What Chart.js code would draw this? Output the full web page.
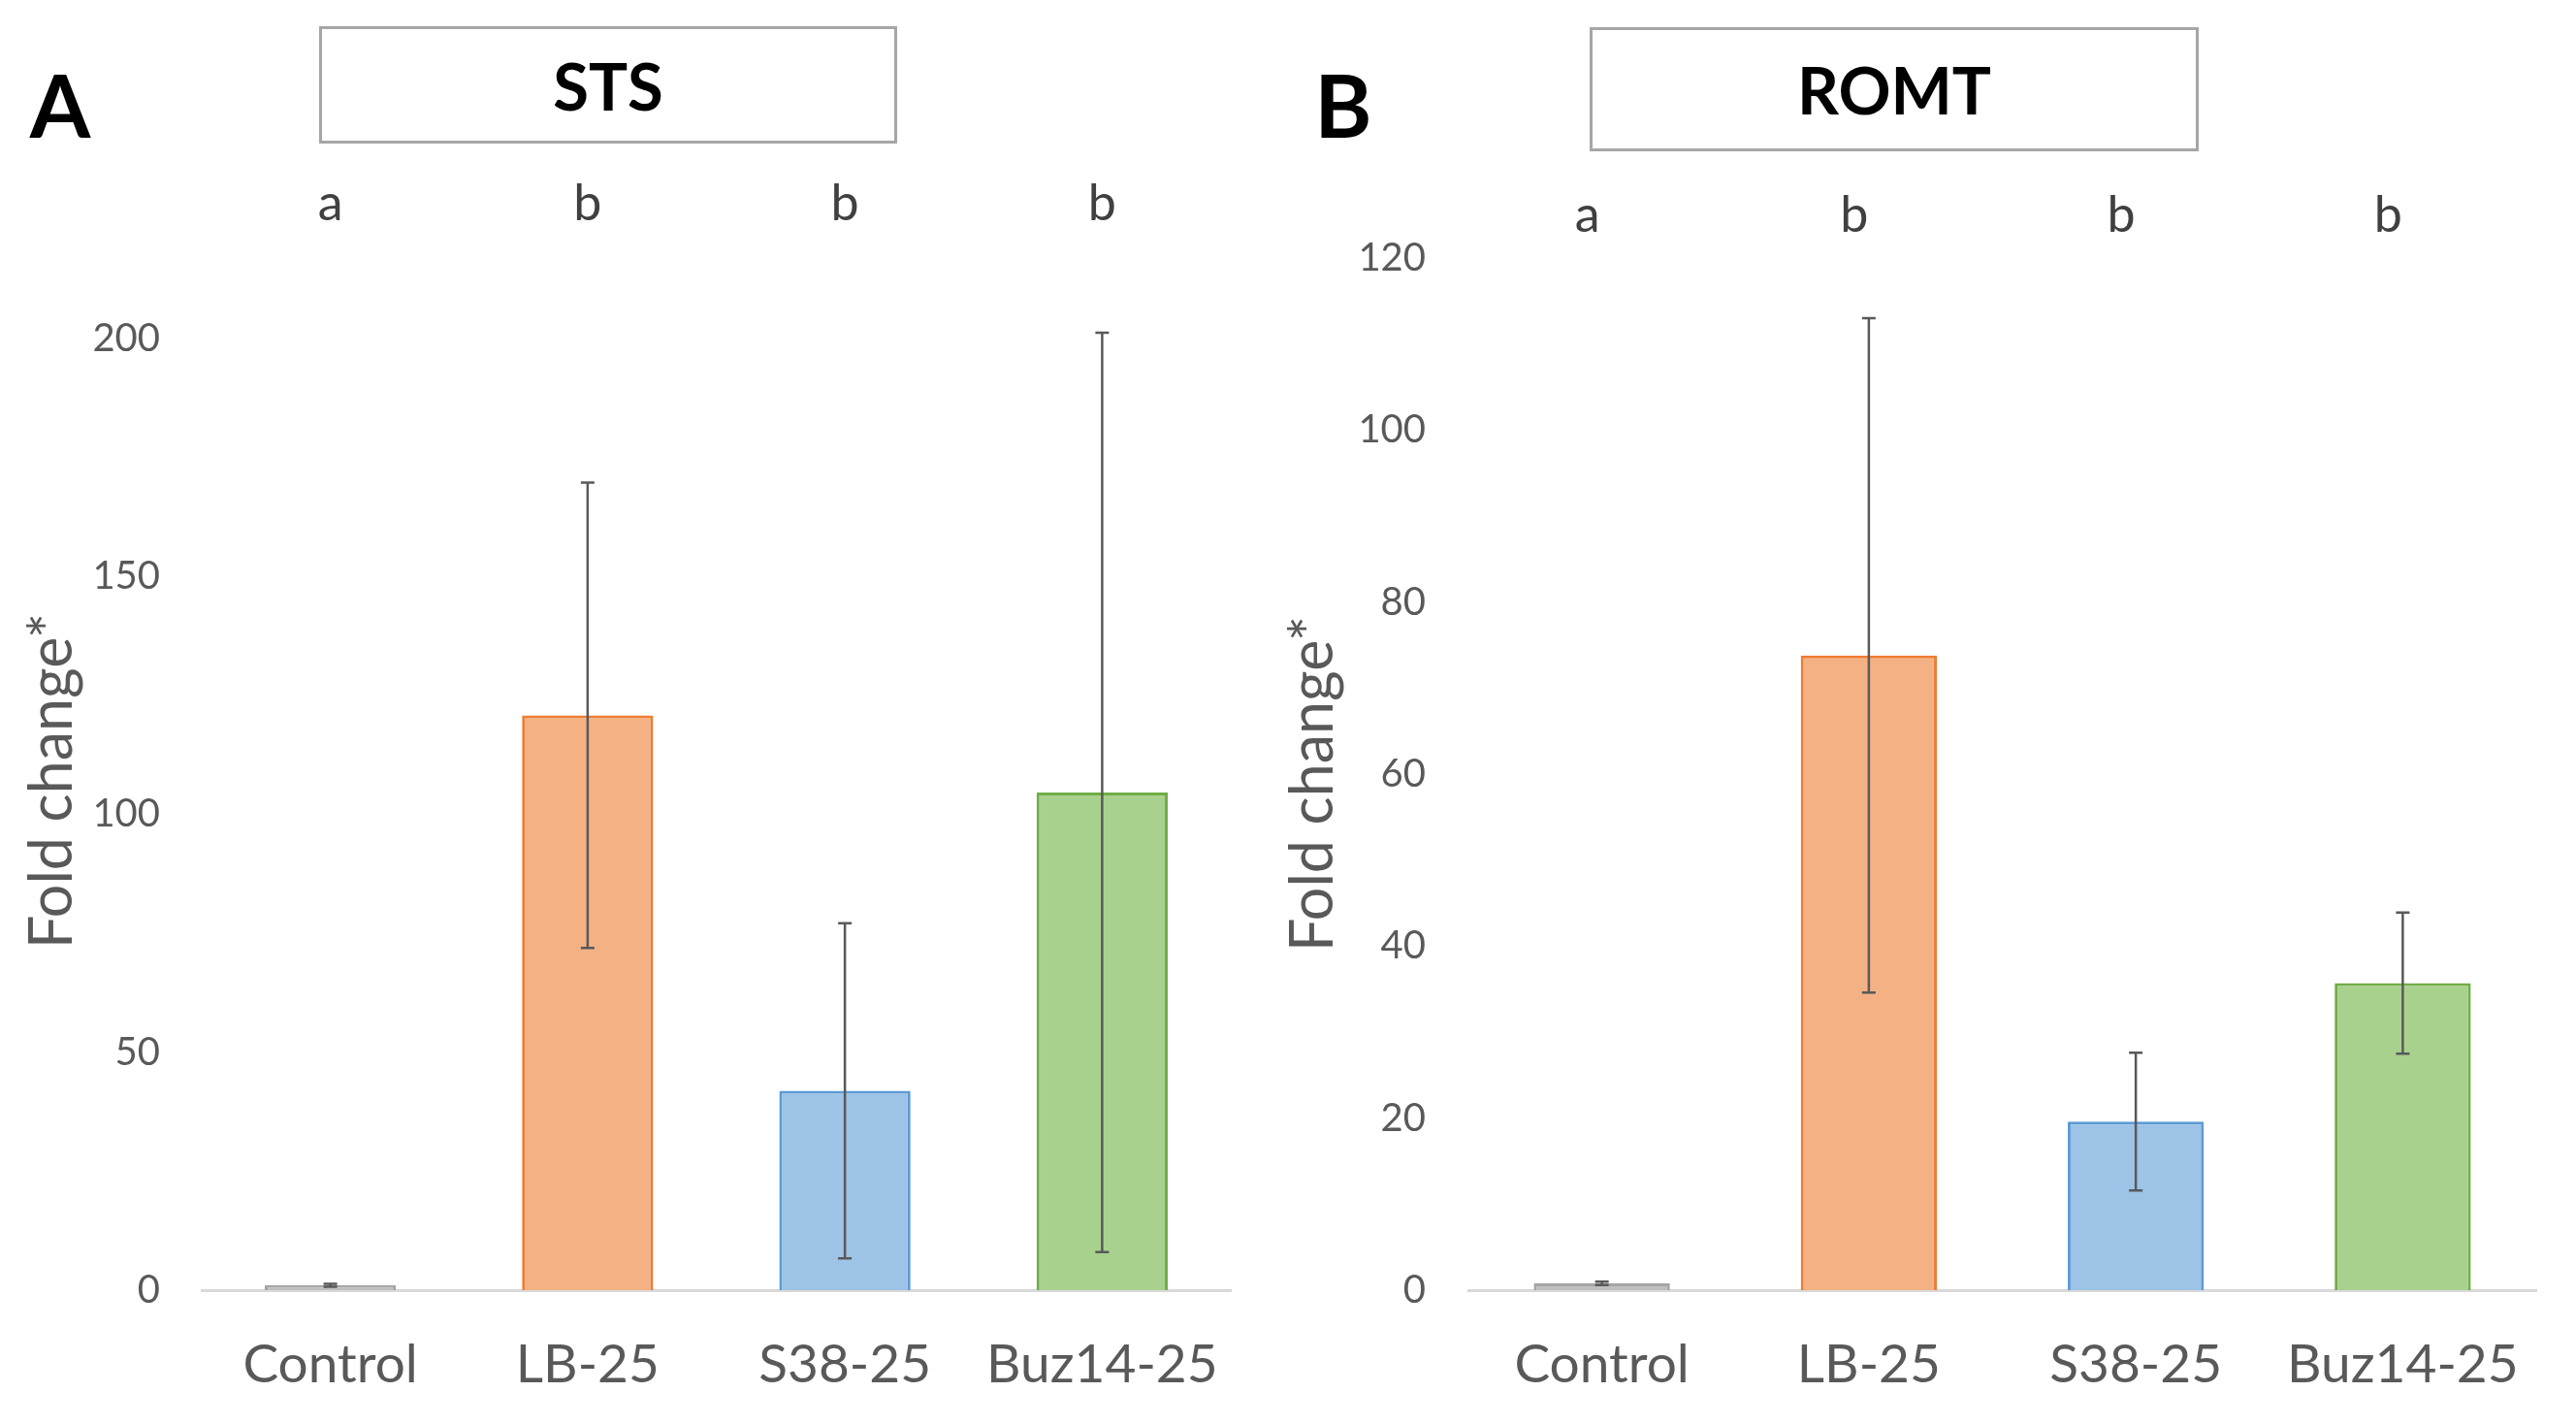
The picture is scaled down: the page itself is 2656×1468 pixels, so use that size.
<!DOCTYPE html>
<html>
<head>
<meta charset="utf-8">
<script src="https://cdn.jsdelivr.net/npm/chart.js@4.4.0/dist/chart.umd.min.js"></script>
<style>
  body { margin: 0; background: #fff; width: 2656px; height: 1468px; overflow: hidden; font-family: Lato, sans-serif; }
  .panel { position: absolute; top: 0; height: 1468px; }
  .box { position: absolute; border: 3px solid #a6a6a6; box-sizing: border-box; display: flex; align-items: center; justify-content: center; font-weight: bold; font-size: 67px; color: #000; }
  .letter { position: absolute; font-weight: bold; font-size: 90px; color: #000; line-height: 1; transform: translate(-50%, -50%); }
  .ytitle { position: absolute; font-size: 61px; color: #595959; white-space: nowrap; line-height: 1; transform: translate(-50%, -50%) rotate(-90deg); }
</style>
</head>
<body>
<div class="letter" style="left:62px;top:107px;">A</div>
<div class="letter" style="left:1385px;top:107px;">B</div>
<div class="box" style="left:329px;top:27px;width:596px;height:121px;">STS</div>
<div class="box" style="left:1639px;top:28px;width:628px;height:128px;">ROMT</div>
<div class="ytitle" style="left:50px;top:805px;">Fold change*</div>
<div class="ytitle" style="left:1350px;top:808px;">Fold change*</div>

<div class="panel" style="left:0;width:1330px;"><canvas id="stsChart"></canvas></div>
<div class="panel" style="left:1320px;width:1336px;"><canvas id="romtChart"></canvas></div>

<script>
// data
var categories = ['Control', 'LB-25', 'S38-25', 'Buz14-25'];
var stsMeans = [1, 120.8, 41.9, 104.6];
var stsErrors = [0.3, 48.9, 35.2, 96.6];
var stsLetters = ['a', 'b', 'b', 'b'];
var romtMeans = [0.8, 73.8, 19.6, 35.7];
var romtErrors = [0.2, 39.2, 8, 8.2];
var romtLetters = ['a', 'b', 'b', 'b'];
var stsTicks = [0, 50, 100, 150, 200];
var romtTicks = [0, 20, 40, 60, 80, 100, 120];

var fills = ['#bfbfbf', '#f4b183', '#9dc3e6', '#a9d18e'];
var borders = ['#a5a5a5', '#ed7d31', '#5b9bd5', '#70ad47'];

// error bars + significance letters
var extrasPlugin = {
    id: 'extras',
    afterDatasetsDraw: function (chart, args, opts) {
        var ctx = chart.ctx;
        var meta = chart.getDatasetMeta(0);
        var y = chart.scales.y;
        var x = chart.scales.x;
        ctx.save();
        ctx.strokeStyle = '#595959';
        ctx.lineWidth = 2.5;
        meta.data.forEach(function (bar, i) {
            var v = opts.means[i], e = opts.errors[i];
            var top = y.getPixelForValue(v + e);
            var bot = y.getPixelForValue(v - e);
            ctx.beginPath();
            ctx.moveTo(bar.x, top); ctx.lineTo(bar.x, bot);
            ctx.moveTo(bar.x - 7, top); ctx.lineTo(bar.x + 7, top);
            ctx.moveTo(bar.x - 7, bot); ctx.lineTo(bar.x + 7, bot);
            ctx.stroke();
        });
        ctx.fillStyle = '#404040';
        ctx.font = '52px Lato';
        ctx.textAlign = 'center';
        ctx.textBaseline = 'alphabetic';
        opts.letters.forEach(function (l, i) {
            ctx.fillText(l, x.getPixelForValue(i) + opts.letterDx, opts.letterY);
        });
        ctx.restore();
    }
};

function makeChart(id, means, errors, letters, ticks, yMax, padTop, padRight, yWidth, tickPad, letterY, letterDx) {
    return new Chart(document.getElementById(id), {
        type: 'bar',
        data: {
            labels: categories,
            datasets: [{
                data: means,
                backgroundColor: fills,
                borderColor: borders,
                borderWidth: 3,
                categoryPercentage: 1,
                barPercentage: 0.51
            }]
        },
        options: {
            responsive: true,
            maintainAspectRatio: false,
            devicePixelRatio: 1,
            animation: false,
            layout: { padding: { top: padTop, right: padRight, bottom: 0, left: 0 } },
            plugins: {
                legend: { display: false },
                tooltip: { enabled: false },
                extras: { means: means, errors: errors, letters: letters, letterY: letterY, letterDx: letterDx }
            },
            scales: {
                x: {
                    grid: { display: true, color: 'rgba(0,0,0,0)', drawTicks: false },
                    border: { display: true, color: '#d9d9d9', width: 3 },
                    ticks: { color: '#595959', font: { family: 'Lato', size: 55 }, padding: 44 },
                    afterFit: function (s) { s.height = 138; }
                },
                y: {
                    min: 0,
                    max: yMax,
                    afterBuildTicks: function (s) { s.ticks = ticks.map(function (t) { return { value: t }; }); },
                    grid: { display: false, drawTicks: false },
                    border: { display: false },
                    ticks: { color: '#595959', font: { family: 'Lato', size: 40 }, padding: tickPad },
                    afterFit: function (s) { s.width = yWidth; }
                }
            }
        },
        plugins: [extrasPlugin]
    });
}

makeChart('stsChart', stsMeans, stsErrors, stsLetters, stsTicks, 200, 349, 61, 208, 43, 227, 0);
makeChart('romtChart', romtMeans, romtErrors, romtLetters, romtTicks, 120, 266, 41, 194, 44, 239, -15);
</script>
</body>
</html>
